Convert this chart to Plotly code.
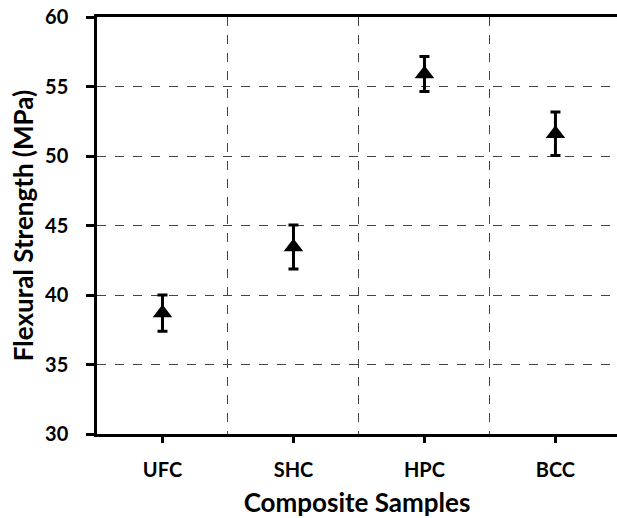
import plotly.graph_objects as go

categories = ["UFC", "SHC", "HPC", "BCC"]
strength = [38.7, 43.45, 55.9, 51.6]
error = [1.3, 1.58, 1.26, 1.56]
y_ticks = [30, 35, 40, 45, 50, 55, 60]

xpos = list(range(len(categories)))

fig = go.Figure()
fig.add_trace(go.Scatter(
    x=xpos, y=strength, mode="markers",
    marker=dict(symbol="triangle-up", size=17, color="black"),
    error_y=dict(type="data", array=error, visible=True, color="black", thickness=3, width=5),
    showlegend=False,
))

font_family = "Lato, Open Sans, Liberation Sans, Arial"
fig.update_layout(
    width=617, height=518, autosize=False,
    margin=dict(l=97, r=0, t=17, b=84),
    plot_bgcolor="white", paper_bgcolor="white",
    font=dict(family=font_family, color="black"),
    xaxis=dict(
        range=[-0.5, 3.47],
        tickvals=xpos, ticktext=categories,
        tickfont=dict(size=20, family=font_family, weight=700),
        ticks="outside", ticklen=6, tickwidth=2.5, tickcolor="black",
        ticklabelstandoff=10,
        showgrid=False, zeroline=False,
        showline=True, linecolor="black", linewidth=2.5, mirror=True,
        minor=dict(tickvals=[0.5, 1.5, 2.5], showgrid=True, gridcolor="#444444",
                   griddash="dash", gridwidth=1, ticks=""),
        title=dict(text="Composite Samples", font=dict(size=26, family=font_family, weight=700), standoff=15),
    ),
    yaxis=dict(
        range=[30, 60], tickvals=y_ticks,
        tickfont=dict(size=20, family=font_family, weight=700),
        ticks="outside", ticklen=8, tickwidth=2.5, tickcolor="black",
        ticklabelstandoff=14,
        showgrid=True, gridcolor="#444444", griddash="dash", gridwidth=1,
        zeroline=False,
        showline=True, linecolor="black", linewidth=2.5,
        title=dict(text="Flexural Strength (MPa)", font=dict(size=26, family=font_family, weight=700), standoff=4),
    ),
)

post = ("document.body.style.margin='0';document.body.style.overflow='hidden';"
        "Plotly.Plots.resize(document.getElementById('{plot_id}'));")
fig.write_html("out.html", post_script=post, default_width="617px", default_height="518px",
               config={"displayModeBar": False})
